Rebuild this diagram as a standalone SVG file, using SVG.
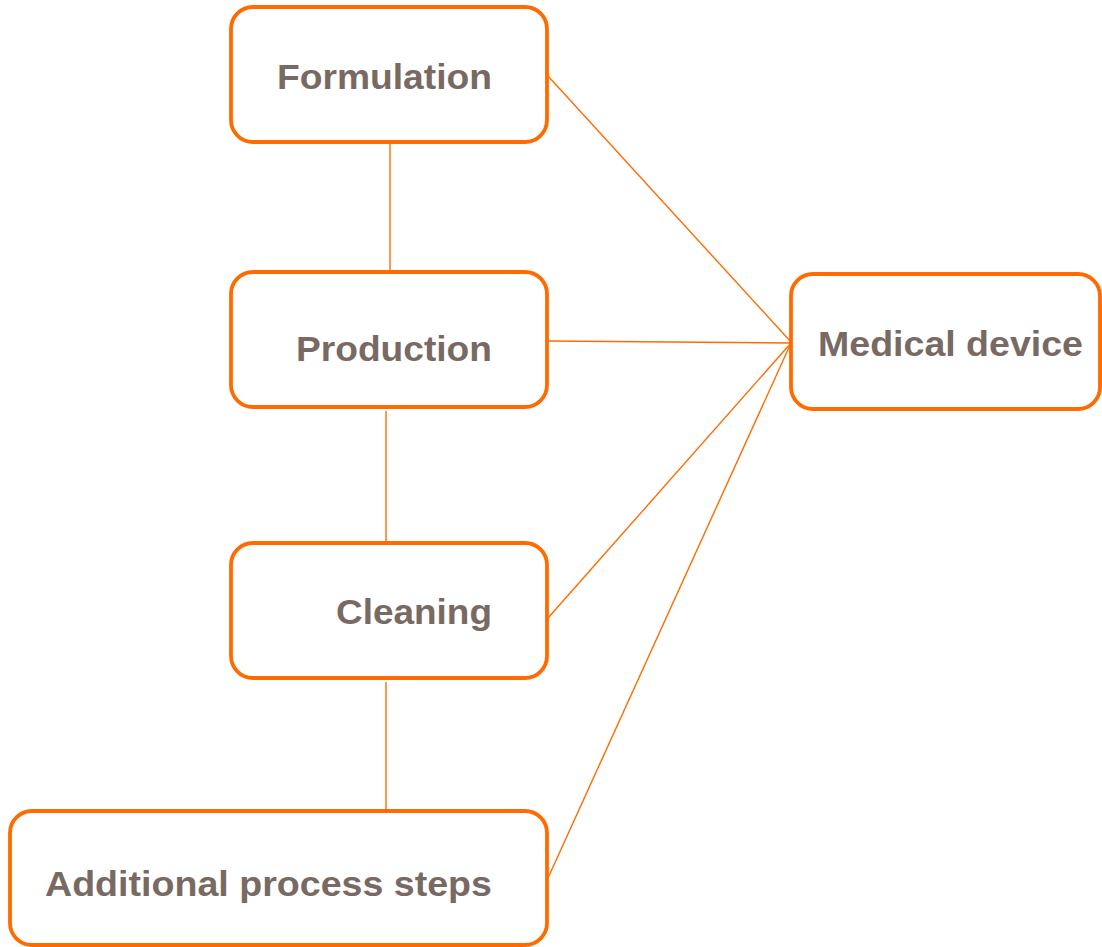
<svg xmlns="http://www.w3.org/2000/svg" width="1102" height="947" viewBox="0 0 1102 947">
<style>
.box{fill:#fff;stroke:#FF6B00;stroke-width:3.8}
.lbl{font-family:"Liberation Sans",Arial,sans-serif;font-weight:bold;font-size:35px;fill:#786A63;text-anchor:end}
.con line{stroke:#FF6B00;stroke-width:1.4}
</style>
<rect width="1102" height="947" fill="#fff"/>
<g class="con">
<line x1="390" y1="143" x2="390" y2="271"/>
<line x1="386" y1="411" x2="386" y2="541"/>
<line x1="386" y1="682" x2="386" y2="812"/>
<line x1="548" y1="76" x2="791" y2="342"/>
<line x1="548" y1="341" x2="791" y2="343"/>
<line x1="548" y1="618" x2="791" y2="343"/>
<line x1="548" y1="878" x2="791" y2="343"/>
</g>
<g id="formulation"><rect class="box" x="231" y="7" width="316" height="135" rx="22"/><text class="lbl" x="492" y="89" textLength="215" lengthAdjust="spacingAndGlyphs">Formulation</text></g>
<g id="production"><rect class="box" x="231" y="272" width="316" height="135" rx="22"/><text class="lbl" x="492" y="361" textLength="196" lengthAdjust="spacingAndGlyphs">Production</text></g>
<g id="cleaning"><rect class="box" x="231" y="543" width="316" height="135" rx="22"/><text class="lbl" x="492" y="624" textLength="156" lengthAdjust="spacingAndGlyphs">Cleaning</text></g>
<g id="additional"><rect class="box" x="10" y="811" width="537" height="134" rx="22"/><text class="lbl" x="492" y="896" textLength="447" lengthAdjust="spacingAndGlyphs">Additional process steps</text></g>
<g id="medical"><rect class="box" x="791" y="274" width="309" height="135" rx="22"/><text class="lbl" x="1083" y="356" textLength="265" lengthAdjust="spacingAndGlyphs">Medical device</text></g>
</svg>
